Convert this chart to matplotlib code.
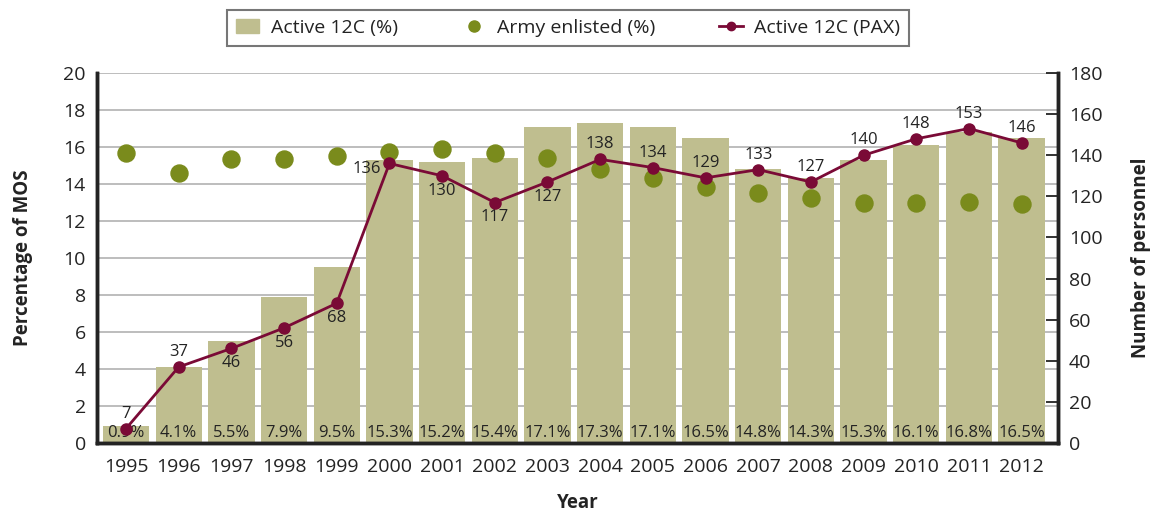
import matplotlib.pyplot as plt
from matplotlib.patches import Patch
from matplotlib.lines import Line2D
import numpy as np

plt.rcParams['font.family'] = ['Open Sans', 'DejaVu Sans']

years = ['1995', '1996', '1997', '1998', '1999', '2000', '2001', '2002', '2003',
         '2004', '2005', '2006', '2007', '2008', '2009', '2010', '2011', '2012']
active_pct = [0.9, 4.1, 5.5, 7.9, 9.5, 15.3, 15.2, 15.4, 17.1,
              17.3, 17.1, 16.5, 14.8, 14.3, 15.3, 16.1, 16.8, 16.5]
army_pct = [15.7, 14.6, 15.35, 15.35, 15.5, 15.75, 15.9, 15.7, 15.4,
            14.8, 14.3, 13.85, 13.5, 13.25, 13.0, 12.95, 13.05, 12.9]
active_pax = [7, 37, 46, 56, 68, 136, 130, 117, 127,
              138, 134, 129, 133, 127, 140, 148, 153, 146]
# where each PAX label sits: a = above, b = below, l = left
pax_pos = ['a', 'a', 'b', 'b', 'b', 'l', 'b', 'b', 'b',
           'a', 'a', 'a', 'a', 'a', 'a', 'a', 'a', 'a']

bar_c = '#bfbe8f'
dot_c = '#7a8b1c'
line_c = '#7a0a36'
dark = '#232323'

fig = plt.figure(figsize=(11.51, 5.15), dpi=100)
ax = fig.add_axes([0.0843, 0.1398, 0.8349, 0.7184])
x = np.arange(len(years))

ax.set_axisbelow(True)
ax.yaxis.grid(True, color='#b8b8b8', linewidth=1.3)
ax.bar(x, active_pct, width=0.88, color=bar_c, zorder=2)
ax.scatter(x, army_pct, s=150, color=dot_c, zorder=4)
ax.set_ylim(0, 20)
ax.set_yticks(range(0, 21, 2))
ax.set_xlim(-0.55, 17.69)
ax.set_xticks(x)
ax.set_xticklabels(years)
ax.tick_params(axis='y', length=0, labelsize=14, pad=8, colors=dark)
ax.tick_params(axis='x', length=0, labelsize=14, pad=11, colors=dark)
ax.set_ylabel('Percentage of MOS', fontsize=13.5, fontweight='bold', labelpad=22, color=dark)
ax.set_xlabel('Year', fontsize=13.5, fontweight='bold', labelpad=12, color=dark)

for xi, v in zip(x, active_pct):
    ax.text(xi, 0.1, f'{v}%', ha='center', va='bottom', fontsize=12, color=dark, zorder=6)

ax2 = ax.twinx()
ax2.plot(x, active_pax, color=line_c, linewidth=2, marker='o', markersize=8, zorder=5)
ax2.set_ylim(0, 180)
ax2.set_yticks(range(0, 181, 20))
ax2.tick_params(axis='y', direction='in', length=9, width=1.3, labelsize=14, pad=8, colors=dark)
ax2.set_ylabel('Number of personnel', fontsize=13.5, fontweight='bold', labelpad=20,
               rotation=90, color=dark)

for xi, v, p in zip(x, active_pax, pax_pos):
    if p == 'a':
        ax2.annotate(str(v), (xi, v), xytext=(0, 5), textcoords='offset points',
                     ha='center', va='bottom', fontsize=12, color=dark)
    elif p == 'b':
        ax2.annotate(str(v), (xi, v), xytext=(0, -5), textcoords='offset points',
                     ha='center', va='top', fontsize=12, color=dark)
    else:
        ax2.annotate(str(v), (xi, v), xytext=(-6, -4), textcoords='offset points',
                     ha='right', va='center', fontsize=12, color=dark)

for a in (ax, ax2):
    a.spines['top'].set_visible(False)
    for s in ('left', 'right', 'bottom'):
        a.spines[s].set_linewidth(2.5)
        a.spines[s].set_color(dark)

handles = [Patch(color=bar_c, label='Active 12C (%)'),
           Line2D([], [], linestyle='none', marker='o', markersize=8, color=dot_c,
                  label='Army enlisted (%)'),
           Line2D([], [], color=line_c, linewidth=2, marker='o', markersize=6,
                  label='Active 12C (PAX)')]
leg = fig.legend(handles=handles, loc='center', bbox_to_anchor=(0.4935, 0.946),
                 ncol=3, fontsize=14, frameon=True, fancybox=False,
                 handlelength=1.2, handletextpad=0.6, columnspacing=3.3, borderpad=0.45)
leg.get_frame().set_edgecolor('#555555')
leg.get_frame().set_linewidth(1.5)
for t in leg.get_texts():
    t.set_color(dark)

fig.savefig('out.png', dpi=100)
